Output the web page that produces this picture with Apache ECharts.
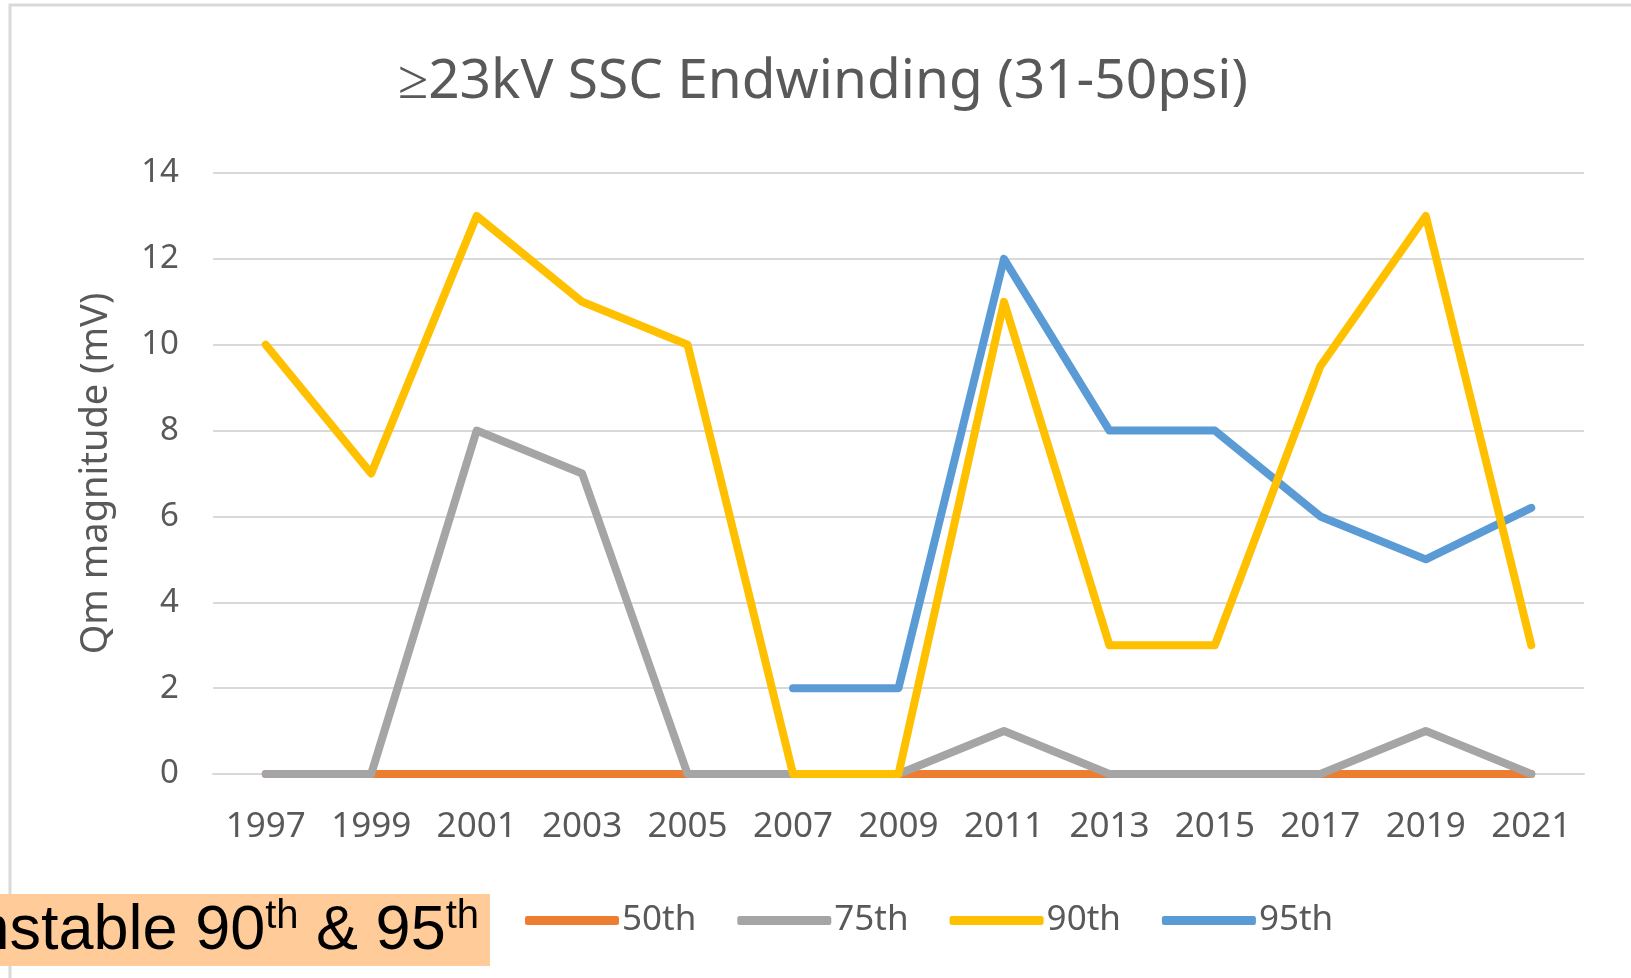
<!DOCTYPE html>
<html>
<head>
<meta charset="utf-8">
<script src="https://cdn.jsdelivr.net/npm/echarts@6/dist/echarts.min.js"></script>
<style>
  html, body { margin: 0; padding: 0; background: #fff; }
  #main { width: 1631px; height: 978px; }
</style>
</head>
<body>
<div id="main"></div>
<script>
// data
const years = ['1997', '1999', '2001', '2003', '2005', '2007', '2009', '2011', '2013', '2015', '2017', '2019', '2021'];
const p50 = [0, 0, 0, 0, 0, 0, 0, 0, 0, 0, 0, 0, 0];
const p75 = [0, 0, 8, 7, 0, 0, 0, 1, 0, 0, 0, 1, 0];
const p90 = [10, 7, 13, 11, 10, 0, 0, 11, 3, 3, 9.5, 13, 3];
const p95 = [null, null, null, null, null, 2, 2, 12, 8, 8, 6, 5, 6.2];

const chart = echarts.init(document.getElementById('main'));

function lineSeries(name, data, color, z) {
  return {
    name: name,
    type: 'line',
    data: data,
    z: z,
    symbol: 'none',
    color: color,
    lineStyle: { width: 8, color: color, cap: 'round', join: 'round' },
    emphasis: { disabled: true }
  };
}

const option = {
  backgroundColor: '#ffffff',
  animation: false,
  title: {
    text: '≥23kV SSC Endwinding (31-50psi)',
    left: 818,
    top: 50,
    textAlign: 'center',
    textStyle: { fontFamily: 'Noto Sans', fontSize: 55, fontWeight: 'normal', color: '#595959' }
  },
  grid: { left: 213, right: 47, top: 173, bottom: 204 },
  xAxis: {
    type: 'category',
    data: years,
    boundaryGap: true,
    axisLine: { lineStyle: { color: '#d9d9d9', width: 2 } },
    axisTick: { show: false },
    axisLabel: { margin: 36, fontFamily: 'Noto Sans', fontSize: 35, color: '#595959' }
  },
  yAxis: {
    type: 'value',
    min: 0,
    max: 14,
    interval: 2,
    name: 'Qm magnitude (mV)',
    nameLocation: 'middle',
    nameGap: 98,
    nameTextStyle: { fontFamily: 'Noto Sans', fontSize: 38, color: '#595959' },
    axisLine: { show: false },
    axisTick: { show: false },
    axisLabel: { margin: 34, fontFamily: 'Noto Sans', fontSize: 33, color: '#595959' },
    splitLine: { lineStyle: { color: '#d9d9d9', width: 2 } }
  },
  legend: {
    left: 520,
    top: 898,
    itemWidth: 94,
    itemHeight: 9,
    itemGap: 41,
    icon: 'roundRect',
    textStyle: { fontFamily: 'Noto Sans', fontSize: 35, color: '#595959', padding: [0, 0, 0, -2] },
    data: ['50th', '75th', '90th', '95th']
  },
  series: [
    lineSeries('50th', p50, '#ED7D31', 2),
    lineSeries('75th', p75, '#A5A5A5', 3),
    lineSeries('90th', p90, '#FFC000', 5),
    lineSeries('95th', p95, '#5B9BD5', 4)
  ],
  graphic: [
    {
      type: 'rect',
      z: -10,
      silent: true,
      shape: { x: 10, y: 5, width: 1700, height: 1100 },
      style: { fill: 'none', stroke: '#d9d9d9', lineWidth: 3 }
    },
    {
      type: 'rect',
      z: 100,
      silent: true,
      shape: { x: -5, y: 894, width: 495, height: 72 },
      style: { fill: '#FFCC99' }
    },
    {
      type: 'text',
      z: 101,
      silent: true,
      x: -71,
      y: 897,
      style: {
        text: '{a|Unstable 90}{s|th}{a| & 95}{s|th}',
        rich: {
          a: { fontFamily: 'Liberation Sans', fontSize: 63, color: '#000', lineHeight: 66, verticalAlign: 'bottom' },
          s: { fontFamily: 'Liberation Sans', fontSize: 40, color: '#000', lineHeight: 66, verticalAlign: 'top' }
        }
      }
    }
  ]
};

chart.setOption(option);
</script>
</body>
</html>
